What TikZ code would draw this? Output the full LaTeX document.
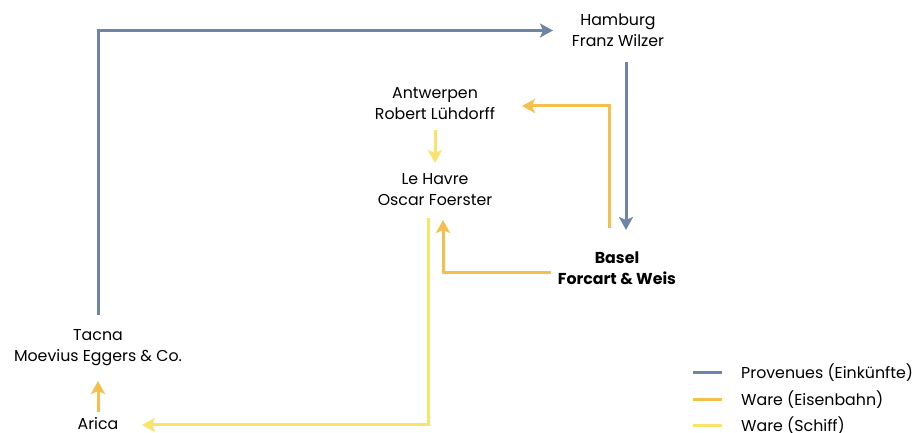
\documentclass[tikz,border=0pt]{standalone}
\usepackage{fontspec}
\setmainfont{Poppins}
\usetikzlibrary{arrows.meta,calc}

\definecolor{provblue}{HTML}{6F85A8}
\definecolor{railorange}{HTML}{F5BF4E}
\definecolor{shipyellow}{HTML}{F9E36B}

\tikzset{
    place/.style={align=center, inner sep=2pt, font=\fontsize{15.8}{21}\selectfont},
    flow/.style={line width=3pt, -{Stealth[length=13pt,width=14pt,inset=3pt]}},
    provenue/.style={flow, provblue},
    rail/.style={flow, railorange},
    ship/.style={flow, shipyellow},
}

\begin{document}
\begin{tikzpicture}[x=1pt, y=1pt]
    \useasboundingbox (0,0) rectangle (918,433);

    % Places
    \node[place] (hamburg) at (618,402.5) {Hamburg\\Franz Wilzer};
    \node[place] (antwerpen) at (435,329) {Antwerpen\\Robert Lühdorff};
    \node[place] (lehavre) at (435,243) {Le Havre\\Oscar Foerster};
    \node[place, font=\fontsize{15.8}{21}\selectfont\bfseries] (basel) at (617,164.5) {Basel\\Forcart \& Weis};
    \node[place] (tacna) at (98,85.5) {Tacna\\Moevius Eggers \& Co.};
    \node[place] (arica) at (98,9) {Arica};

    % Provenues
    \draw[provenue] ($(tacna.center)+(0,32.5)$) |- ($(hamburg.center)+(-65,0)$);
    \draw[provenue] ($(hamburg.center)+(8,-31.5)$) -- ($(basel.center)+(9,38.5)$);

    % Ware (Eisenbahn)
    \draw[rail] ($(basel.center)+(-8,40.5)$) |- ($(antwerpen.center)+(87,-2)$);
    \draw[rail] ($(basel.center)+(-66,-4.5)$) -| ($(lehavre.center)+(8,-30)$);
    \draw[rail] ($(arica.center)+(0,12)$) -- ($(tacna.center)+(0,-33.5)$);

    % Ware (Schiff)
    \draw[ship] ($(antwerpen.center)+(0,-26)$) -- ($(lehavre.center)+(0,27)$);
    \draw[ship] ($(lehavre.center)+(-7,-28)$) |- ($(arica.center)+(44,-1)$);

    % Legend
    \foreach \col/\txt/\y/\name in {provblue/Provenues (Einkünfte)/60/lprov,
                                     railorange/Ware (Eisenbahn)/33/lrail,
                                     shipyellow/Ware (Schiff)/7/lship} {
        \coordinate (\name-a) at (693,\y);
        \node[place, anchor=west] (\name) at (739,\y) {\txt};
        \draw[line width=3pt, \col] (\name-a) -- ++(29,0);
    }
\end{tikzpicture}
\end{document}
